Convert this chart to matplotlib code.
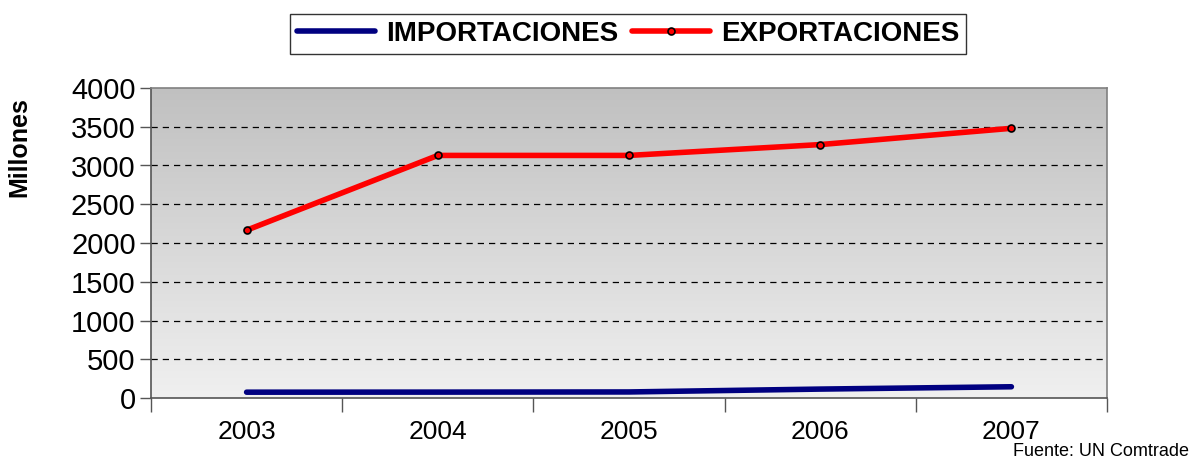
import numpy as np
import matplotlib.pyplot as plt
from matplotlib.colors import LinearSegmentedColormap
from matplotlib.ticker import MultipleLocator, FixedLocator

years = ['2003', '2004', '2005', '2006', '2007']
importaciones = [75, 76, 78, 115, 145]
exportaciones = [2165, 3130, 3130, 3270, 3480]

plt.rcParams['font.family'] = ['Liberation Sans', 'DejaVu Sans']

fig = plt.figure(figsize=(11.91, 4.61), dpi=100)
ax = fig.add_axes([151 / 1191, 63 / 461, 956 / 1191, 310 / 461])

x = np.arange(len(years))

# gradient background, darker at the top
grad = np.linspace(0, 1, 256).reshape(-1, 1)
cmap = LinearSegmentedColormap.from_list('g', ['#f0f0f0', '#c0c0c0'])
ax.imshow(grad, extent=[-0.5, 4.5, 0, 4000], aspect='auto', origin='lower', cmap=cmap, zorder=0)

for yv in range(500, 4000, 500):
    ax.axhline(yv, color='black', lw=0.9, ls=(0, (5, 4)), zorder=1)

ax.plot(x, importaciones, color='#000080', lw=4, solid_capstyle='round', label='IMPORTACIONES', zorder=3)
ax.plot(x, exportaciones, color='#ff0000', lw=4, solid_capstyle='round', marker='o', ms=5,
        mfc='#ff0000', mec='black', mew=1.2, label='EXPORTACIONES', zorder=3)

ax.set_xlim(-0.5, 4.5)
ax.set_ylim(0, 4000)
ax.yaxis.set_major_locator(MultipleLocator(500))
ax.tick_params(axis='y', labelsize=21, length=8, width=1, color='#555555', pad=3)
ax.xaxis.set_major_locator(FixedLocator(np.arange(-0.5, 5, 1)))
ax.set_xticklabels([])
ax.set_xticks(x, years, minor=True)
ax.tick_params(axis='x', which='major', length=10, width=1, color='#555555')
ax.tick_params(axis='x', which='minor', length=0, labelsize=19, pad=16)

for s in ax.spines.values():
    s.set_color('#808080')
    s.set_linewidth(1.2)
ax.spines['bottom'].set_color('#555555')
ax.spines['left'].set_color('#555555')

ax.set_ylabel('Millones', fontsize=18, fontweight='bold')
ax.yaxis.set_label_coords(-0.1255, 0.81)

leg = fig.legend(loc='center', bbox_to_anchor=(628 / 1191, 1 - 34 / 461), ncol=2,
                 prop={'size': 20, 'weight': 'bold'}, frameon=True, fancybox=False,
                 edgecolor='black', handlelength=2.8, handletextpad=0.4, columnspacing=0.5,
                 borderpad=0.25)
leg.get_frame().set_linewidth(1.0)

fig.text(1189 / 1191, 1 / 461, 'Fuente: UN Comtrade', ha='right', va='bottom', fontsize=13)

fig.savefig('out.png', dpi=100)
